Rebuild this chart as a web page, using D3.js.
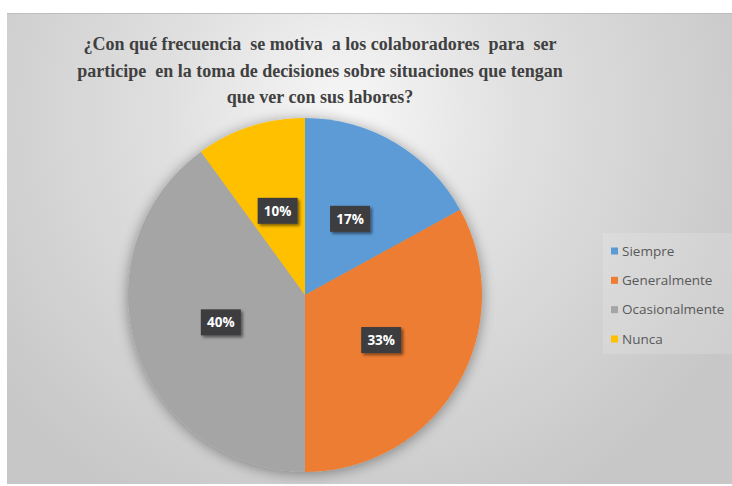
<!DOCTYPE html>
<html>
<head>
<meta charset="utf-8">
<script src="https://cdn.jsdelivr.net/npm/d3@7"></script>
<style>
  html, body { margin: 0; padding: 0; background: #ffffff; }
  svg { display: block; }
  .title tspan { white-space: pre; }
</style>
</head>
<body>
<svg id="chart" width="732" height="486"></svg>
<script>
// Survey answers and their shares (percent)
const categories = ["Siempre", "Generalmente", "Ocasionalmente", "Nunca"];
const values = [17, 33, 40, 10];
const colors = ["#5B9BD5", "#ED7D31", "#A5A5A5", "#FFC000"];
const titleLines = [
  "¿Con qué frecuencia  se motiva  a los colaboradores  para  ser",
  "participe  en la toma de decisiones sobre situaciones que tengan",
  "que ver con sus labores?"
];

const svg = d3.select("#chart");
const W = 732, H = 486;

const defs = svg.append("defs");

// Soft grey backdrop, lighter near the title
const bg = defs.append("radialGradient")
  .attr("id", "bgGrad")
  .attr("gradientUnits", "userSpaceOnUse")
  .attr("cx", 345).attr("cy", 115).attr("r", 440);
bg.append("stop").attr("offset", "0%").attr("stop-color", "#f7f7f7");
bg.append("stop").attr("offset", "40%").attr("stop-color", "#e0e0e0");
bg.append("stop").attr("offset", "100%").attr("stop-color", "#c7c7c7");

const pieShadow = defs.append("filter").attr("id", "pieShadow")
  .attr("x", "-20%").attr("y", "-20%").attr("width", "140%").attr("height", "140%");
pieShadow.append("feGaussianBlur").attr("in", "SourceAlpha").attr("stdDeviation", 7).attr("result", "b");
pieShadow.append("feOffset").attr("in", "b").attr("dx", 0).attr("dy", 2).attr("result", "o");
pieShadow.append("feComponentTransfer").attr("in", "o").attr("result", "s")
  .append("feFuncA").attr("type", "linear").attr("slope", 0.4);
const pm = pieShadow.append("feMerge");
pm.append("feMergeNode").attr("in", "s");
pm.append("feMergeNode").attr("in", "SourceGraphic");

const boxShadow = defs.append("filter").attr("id", "boxShadow")
  .attr("x", "-30%").attr("y", "-30%").attr("width", "170%").attr("height", "180%");
boxShadow.append("feGaussianBlur").attr("in", "SourceAlpha").attr("stdDeviation", 1.5).attr("result", "b");
boxShadow.append("feOffset").attr("in", "b").attr("dx", 2).attr("dy", 2).attr("result", "o");
boxShadow.append("feComponentTransfer").attr("in", "o").attr("result", "s")
  .append("feFuncA").attr("type", "linear").attr("slope", 0.5);
const bm = boxShadow.append("feMerge");
bm.append("feMergeNode").attr("in", "s");
bm.append("feMergeNode").attr("in", "SourceGraphic");

// Chart area
svg.append("rect").attr("x", 7).attr("y", 13).attr("width", W - 7).attr("height", H - 15)
  .attr("fill", "url(#bgGrad)");
svg.append("line").attr("x1", 7).attr("x2", W).attr("y1", 13.5).attr("y2", 13.5)
  .attr("stroke", "#bdbdbd").attr("stroke-width", 1);

// Title
const title = svg.append("text")
  .attr("class", "title")
  .attr("text-anchor", "middle")
  .attr("font-family", "'Liberation Serif', 'Times New Roman', serif")
  .attr("font-weight", "bold")
  .attr("font-size", 18)
  .attr("fill", "#404040");
titleLines.forEach((t, i) => {
  title.append("tspan").attr("x", 320).attr("y", 50 + i * 26.5).text(t);
});

// Pie
const cx = 305, cy = 295, r = 177;
const pie = d3.pie().sort(null).value(d => d)(values);
const arc = d3.arc().innerRadius(0).outerRadius(r);

const g = svg.append("g").attr("transform", `translate(${cx},${cy})`);
g.append("g").attr("filter", "url(#pieShadow)")
  .selectAll("path").data(pie).join("path")
  .attr("d", arc)
  .attr("fill", (d, i) => colors[i]);

// Value labels on dark boxes
const lbl = g.selectAll("g.lbl").data(pie).join("g")
  .attr("class", "lbl")
  .attr("transform", d => `translate(${arc.centroid(d)})`);
lbl.append("rect")
  .attr("x", -20).attr("y", -13).attr("width", 40).attr("height", 26)
  .attr("fill", "#3d3d3f")
  .attr("filter", "url(#boxShadow)");
lbl.append("text")
  .attr("text-anchor", "middle")
  .attr("dy", "0.36em")
  .attr("font-family", "'Open Sans', 'DejaVu Sans', sans-serif")
  .attr("font-weight", "bold")
  .attr("font-size", 13.5)
  .attr("fill", "#ffffff")
  .text(d => d.data + "%");

// Legend
const legend = svg.append("g");
legend.append("rect").attr("x", 603).attr("y", 233).attr("width", 129).attr("height", 121)
  .attr("fill", "#ffffff").attr("fill-opacity", 0.15);
const ly = d3.scalePoint().domain(categories).range([251, 339]);
const items = legend.selectAll("g.item").data(categories).join("g")
  .attr("class", "item")
  .attr("transform", d => `translate(611,${ly(d)})`);
items.append("rect").attr("x", 0).attr("y", -3.5).attr("width", 7).attr("height", 7)
  .attr("fill", (d, i) => colors[i]);
items.append("text")
  .attr("x", 11).attr("dy", "0.35em")
  .attr("font-family", "'Open Sans', sans-serif")
  .attr("font-size", 13.5)
  .attr("fill", "#595959")
  .text(d => d);
</script>
</body>
</html>
